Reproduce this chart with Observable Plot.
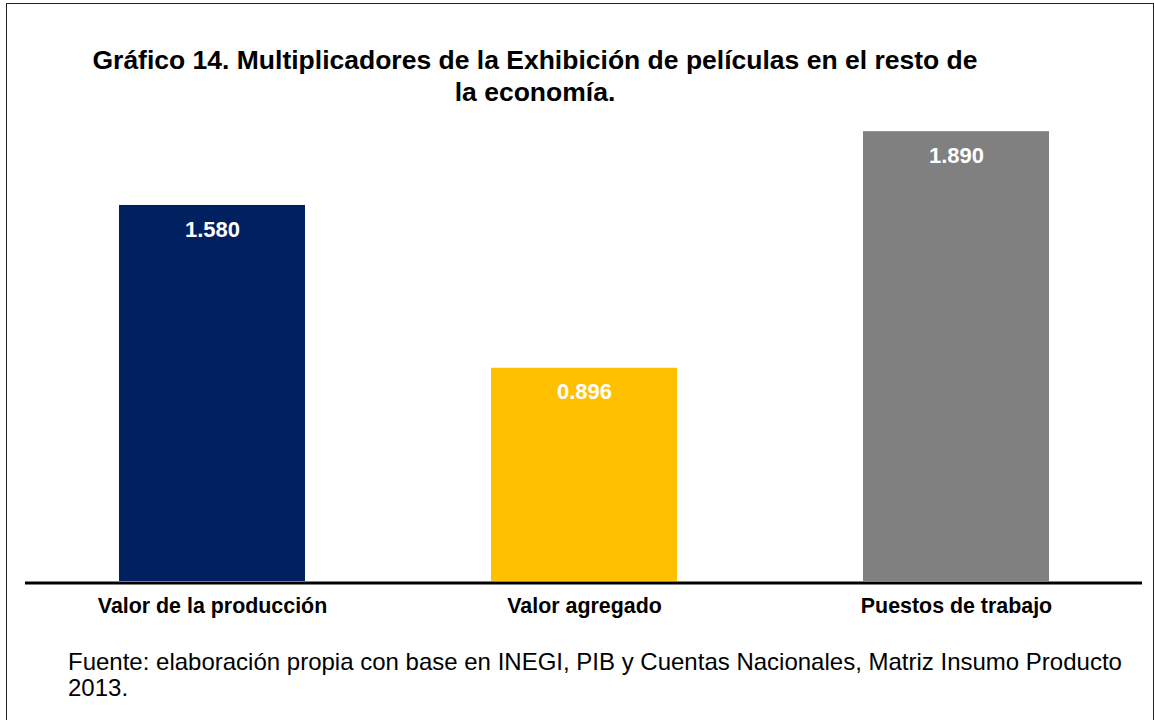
<!DOCTYPE html>
<html>
<head>
<meta charset="utf-8">
<script src="https://cdn.jsdelivr.net/npm/d3@7"></script>
<script src="https://cdn.jsdelivr.net/npm/@observablehq/plot@0.6"></script>
<style>
  html, body { margin: 0; padding: 0; background: #fff; }
  body { width: 1154px; height: 720px; overflow: hidden; position: relative; font-family: "Liberation Sans", Arial, sans-serif; }
  #frame { position: absolute; left: 6px; top: 3px; width: 1146px; height: 740px; border: 1px solid #222; box-sizing: content-box; pointer-events: none; }
  #title { position: absolute; left: 35px; top: 44px; width: 1000px; text-align: center; font-weight: bold; font-size: 26.5px; line-height: 32px; color: #000; white-space: nowrap; }
  #chart { position: absolute; left: 0; top: 100px; }
  #caption { position: absolute; left: 68px; top: 649px; font-size: 24px; line-height: 26px; color: #000; white-space: nowrap; }
</style>
</head>
<body>
<div id="frame"></div>
<div id="title">Gráfico 14. Multiplicadores de la Exhibición de películas en el resto de<br>la economía.</div>
<div id="chart"></div>
<div id="caption">Fuente: elaboración propia con base en INEGI, PIB y Cuentas Nacionales, Matriz Insumo Producto<br>2013.</div>
<script>
const categories = ["Valor de la producción", "Valor agregado", "Puestos de trabajo"];
const values = [1.580, 0.896, 1.890];
const labels = ["1.580", "0.896", "1.890"];
const colors = ["#002060", "#FFC000", "#808080"];

const data = categories.map((c, i) => ({category: c, value: values[i], label: labels[i]}));

const plot = Plot.plot({
  width: 1154,
  height: 520,
  marginTop: 5,
  marginBottom: 39,
  marginLeft: 25,
  marginRight: 12,
  style: {fontFamily: "'Liberation Sans', Arial, sans-serif", background: "transparent"},
  x: {domain: categories, paddingInner: 0.5, paddingOuter: 0.25, label: null},
  y: {domain: [0, 2], axis: null},
  color: {domain: categories, range: colors},
  marks: [
    Plot.barY(data, {x: "category", y: "value", fill: "category"}),
    Plot.ruleY([0], {stroke: "#000", strokeWidth: 3, dy: 1.5}),
    Plot.text(data, {x: "category", y: "value", text: "label", fill: "#fff", fontWeight: "bold", fontSize: 22, dy: 24}),
    Plot.axisX({tickSize: 0, tickPadding: 16, fontSize: 21.4, fontWeight: "bold", fill: "#000", label: null})
  ]
});
document.getElementById("chart").appendChild(plot);
</script>
</body>
</html>
